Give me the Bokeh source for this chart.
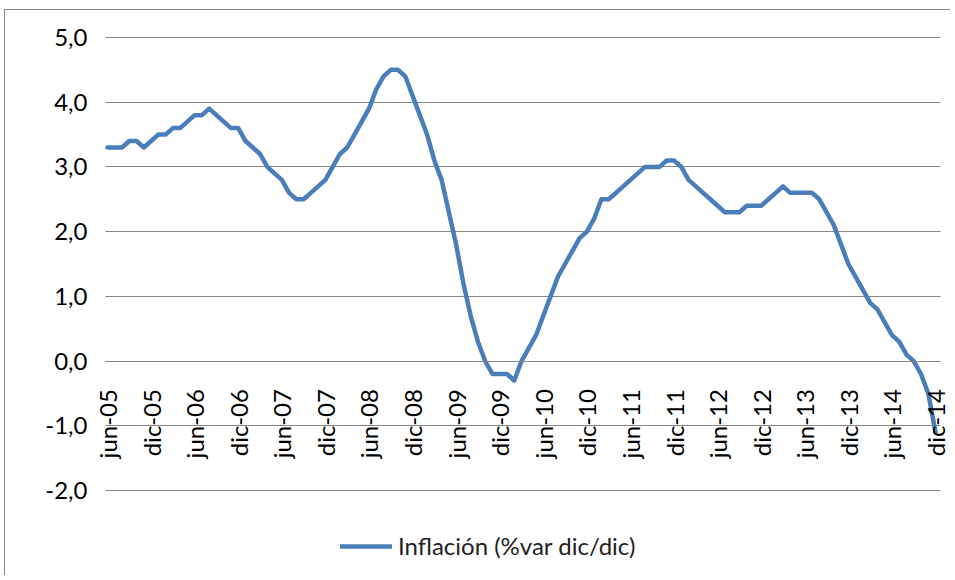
import math
from bokeh.plotting import figure
from bokeh.models import (Range1d, FixedTicker, Legend, LegendItem,
                          CustomJSTickFormatter, ColumnDataSource)
from bokeh.embed import file_html
from bokeh.resources import INLINE

# Monthly inflation (% var dic/dic), jun-05 ... dic-14
inflacion = [
    3.3, 3.3, 3.3, 3.4, 3.4, 3.3, 3.4, 3.5, 3.5, 3.6, 3.6, 3.7,   # jun-05 .. may-06
    3.8, 3.8, 3.9, 3.8, 3.7, 3.6, 3.6, 3.4, 3.3, 3.2, 3.0, 2.9,   # jun-06 .. may-07
    2.8, 2.6, 2.5, 2.5, 2.6, 2.7, 2.8, 3.0, 3.2, 3.3, 3.5, 3.7,   # jun-07 .. may-08
    3.9, 4.2, 4.4, 4.5, 4.5, 4.4, 4.1, 3.8, 3.5, 3.1, 2.8, 2.3,   # jun-08 .. may-09
    1.8, 1.2, 0.7, 0.3, 0.0, -0.2, -0.2, -0.2, -0.3, 0.0, 0.2, 0.4,  # jun-09 .. may-10
    0.7, 1.0, 1.3, 1.5, 1.7, 1.9, 2.0, 2.2, 2.5, 2.5, 2.6, 2.7,   # jun-10 .. may-11
    2.8, 2.9, 3.0, 3.0, 3.0, 3.1, 3.1, 3.0, 2.8, 2.7, 2.6, 2.5,   # jun-11 .. may-12
    2.4, 2.3, 2.3, 2.3, 2.4, 2.4, 2.4, 2.5, 2.6, 2.7, 2.6, 2.6,   # jun-12 .. may-13
    2.6, 2.6, 2.5, 2.3, 2.1, 1.8, 1.5, 1.3, 1.1, 0.9, 0.8, 0.6,   # jun-13 .. may-14
    0.4, 0.3, 0.1, 0.0, -0.2, -0.5, -1.1,                         # jun-14 .. dic-14
]
month_index = list(range(len(inflacion)))

tick_positions = [0, 6, 12, 18, 24, 30, 36, 42, 48, 54,
                  60, 66, 72, 78, 84, 90, 96, 102, 108, 114]
tick_labels = ["jun-05", "dic-05", "jun-06", "dic-06", "jun-07", "dic-07",
               "jun-08", "dic-08", "jun-09", "dic-09", "jun-10", "dic-10",
               "jun-11", "dic-11", "jun-12", "dic-12", "jun-13", "dic-13",
               "jun-14", "dic-14"]
y_ticks = [-2, -1, 0, 1, 2, 3, 4, 5]
serie_label = "Inflación (%var dic/dic)"

FONT = "Lato"
GRID = "#868686"
PLOT_SPAN = (-0.28, 114.7)   # horizontal extent of the plot area (category units)

src = ColumnDataSource(data=dict(m=month_index, v=inflacion))

# frame extends below the -2 gridline so the legend sits inside it,
# and a little left/right so the first/last rotated labels are not clipped
p = figure(width=950, height=575, output_backend="svg", toolbar_location=None,
           x_range=Range1d(-1.377, 115.65), y_range=Range1d(-3.236, 5.0155),
           min_border_left=97, min_border_right=3,
           min_border_top=36, min_border_bottom=5)
p.outline_line_color = None
p.background_fill_color = "white"
p.border_fill_color = None
p.styles = {
    "background": "linear-gradient(#868686,#868686) 4px 9px / 1px 100% no-repeat, "
                  "linear-gradient(#868686,#868686) 4px 9px / 100% 1px no-repeat, white",
}

r = p.line(x="m", y="v", source=src, line_color="#4A7EBB", line_width=4.5,
           line_cap="round", line_join="round")

p.xgrid.visible = False
p.ygrid.ticker = FixedTicker(ticks=y_ticks)
p.ygrid.grid_line_color = GRID
p.ygrid.grid_line_width = 1
p.ygrid.cross_bounds = PLOT_SPAN

ya = p.yaxis[0]
ya.ticker = FixedTicker(ticks=y_ticks)
ya.formatter = CustomJSTickFormatter(code="return tick.toFixed(1).replace('.', ',');")
ya.axis_line_color = None
ya.major_tick_line_color = None
ya.minor_tick_line_color = None
ya.major_label_standoff = 4
ya.major_label_text_font = FONT
ya.major_label_text_font_size = "24px"
ya.major_label_text_color = "#000000"

xa = p.xaxis[0]
xa.fixed_location = 0
xa.bounds = PLOT_SPAN
xa.ticker = FixedTicker(ticks=tick_positions)
xa.major_label_overrides = dict(zip(tick_positions, tick_labels))
xa.major_label_orientation = math.pi / 2
xa.axis_line_color = GRID
xa.axis_line_width = 1
xa.major_tick_line_color = None
xa.minor_tick_line_color = None
xa.major_label_standoff = 22
xa.major_label_text_font = FONT
xa.major_label_text_font_size = "24px"
xa.major_label_text_color = "#000000"

legend = Legend(items=[LegendItem(label=serie_label, renderers=[r])],
                location=(243, 10), orientation="horizontal",
                padding=0, margin=0, border_line_color=None,
                background_fill_alpha=0, glyph_width=52, label_standoff=6,
                label_text_font=FONT, label_text_font_size="24px",
                label_text_color="#222222")
p.add_layout(legend)

open("out.html", "w").write(file_html(p, INLINE))
